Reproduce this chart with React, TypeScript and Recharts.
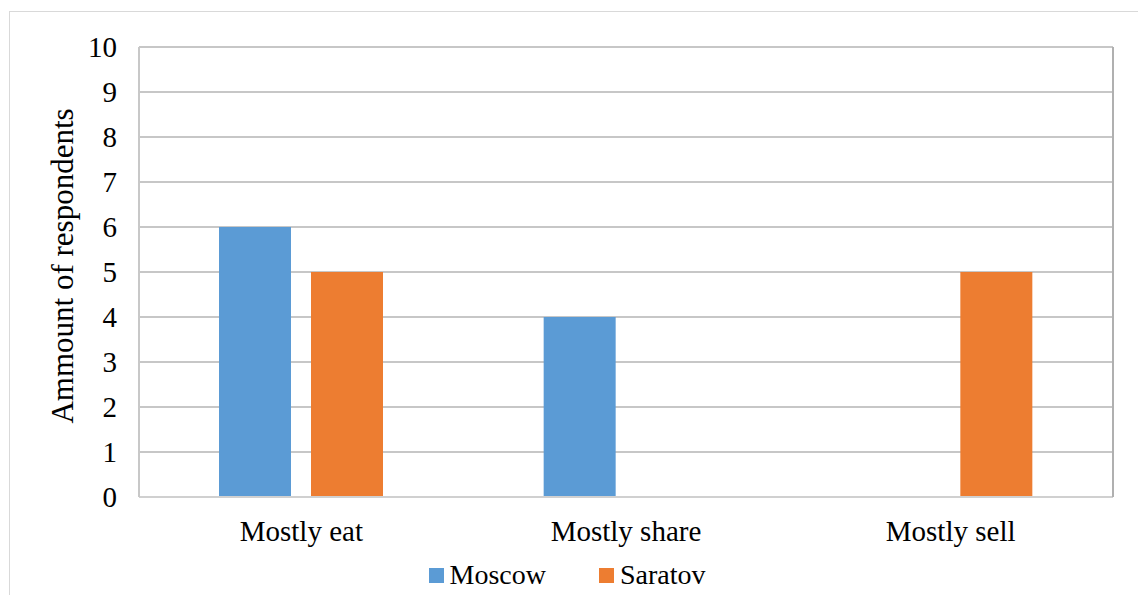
import React from "react";
import {
  BarChart,
  Bar,
  XAxis,
  YAxis,
  CartesianGrid,
  Legend,
} from "recharts";

const categories = ["Mostly eat", "Mostly share", "Mostly sell"];
const moscow = [6, 4, 0];
const saratov = [5, 0, 5];
const yTicks = [0, 1, 2, 3, 4, 5, 6, 7, 8, 9, 10];

const series = [
  { key: "Moscow", color: "#5B9BD5", values: moscow },
  { key: "Saratov", color: "#ED7D31", values: saratov },
];

const data = categories.map((name, i) => ({
  name,
  Moscow: moscow[i],
  Saratov: saratov[i],
}));

const FONT = '"Liberation Serif", "Times New Roman", serif';

function AxisTitle({ viewBox }: any) {
  const cy = viewBox.y + viewBox.height / 2 - 6;
  return (
    <text
      x={62}
      y={cy}
      transform={`rotate(-90, 62, ${cy})`}
      textAnchor="middle"
      dominantBaseline="central"
      fontFamily={FONT}
      fontSize={31}
      fill="#000"
    >
      Ammount of respondents
    </text>
  );
}

function LegendRow() {
  return (
    <div
      style={{
        display: "flex",
        justifyContent: "center",
        gap: 53,
        fontFamily: FONT,
        fontSize: 28,
        color: "#000",
        lineHeight: "30px",
      }}
    >
      {series.map((s) => (
        <div key={s.key} style={{ display: "flex", alignItems: "center" }}>
          <span
            style={{
              display: "inline-block",
              width: 15,
              height: 15,
              background: s.color,
              marginRight: 6,
            }}
          />
          <span>{s.key}</span>
        </div>
      ))}
    </div>
  );
}

export default function App() {
  return (
    <div
      style={{
        position: "absolute",
        left: 0,
        top: 0,
        width: 1138,
        height: 595,
        overflow: "hidden",
        background: "#fff",
      }}
    >
      {/* outer chart frame */}
      <div
        style={{
          position: "absolute",
          left: 9,
          top: 11,
          width: 1200,
          height: 700,
          border: "1px solid #d9d9d9",
        }}
      />
      <div style={{ position: "absolute", left: 0, top: 0 }}>
        <BarChart
          width={1138}
          height={595}
          data={data}
          margin={{ top: 47, right: 24, left: 0, bottom: 8 }}
          barSize={72}
          barGap={20}
        >
          <CartesianGrid
            yAxisId="left"
            vertical={false}
            stroke="#b4b4b4"
            strokeWidth={1.5}
          />
          <XAxis
            dataKey="name"
            height={60}
            axisLine={{ stroke: "#d0d0d0", strokeWidth: 2 }}
            tickLine={false}
            tickSize={0}
            tickMargin={23}
            tick={{ fontFamily: FONT, fontSize: 29, fill: "#000" }}
          />
          <YAxis
            yAxisId="left"
            width={139}
            domain={[0, 10]}
            ticks={yTicks}
            interval={0}
            axisLine={{ stroke: "#c8c8c8", strokeWidth: 2 }}
            tickLine={false}
            tickSize={0}
            tickMargin={22}
            tick={{ fontFamily: FONT, fontSize: 29, fill: "#000" }}
            label={{ content: AxisTitle }}
          />
          <YAxis
            yAxisId="right"
            orientation="right"
            width={1}
            domain={[0, 10]}
            tick={false}
            tickLine={false}
            axisLine={{ stroke: "#b0b0b0", strokeWidth: 2 }}
          />
          <Legend
            layout="vertical"
            align="center"
            verticalAlign="bottom"
            content={() => <LegendRow />}
            wrapperStyle={{ position: "absolute", top: 560, left: 0, width: 1134, bottom: "auto" }}
          />
          {series.map((s) => (
            <Bar
              key={s.key}
              yAxisId="left"
              dataKey={s.key}
              fill={s.color}
              isAnimationActive={false}
            />
          ))}
        </BarChart>
      </div>
    </div>
  );
}
